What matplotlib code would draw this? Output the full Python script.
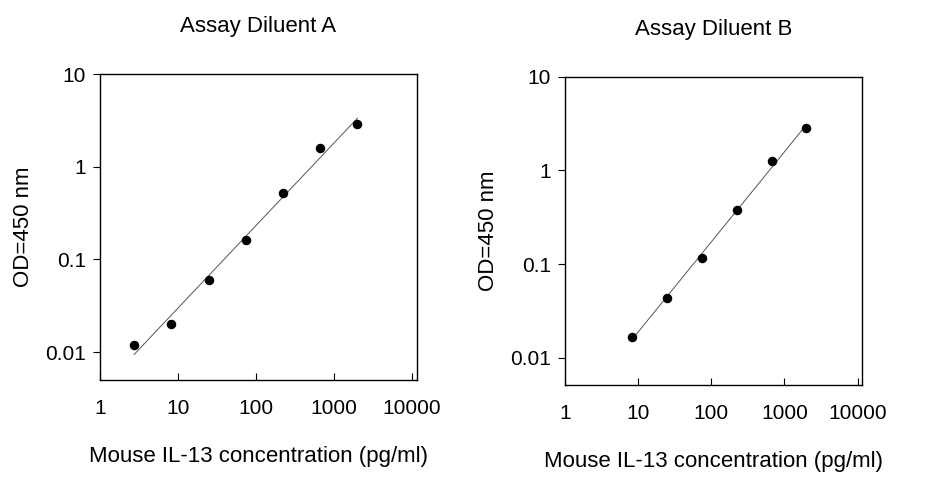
import matplotlib
matplotlib.use("Agg")
import matplotlib.pyplot as plt
import numpy as np
from matplotlib.ticker import FixedLocator, FixedFormatter, NullLocator

plt.rcParams['font.family'] = ['Liberation Sans', 'DejaVu Sans']

xA = [2.74, 8.23, 24.7, 74.1, 222, 667, 2000]
yA = [0.012, 0.020, 0.060, 0.16, 0.52, 1.6, 2.9]
xB = [8.23, 24.7, 74.1, 222, 667, 2000]
yB = [0.0165, 0.043, 0.115, 0.38, 1.25, 2.85]
titles = ["Assay Diluent A", "Assay Diluent B"]
xticks = [1, 10, 100, 1000, 10000]
xlabels = ["1", "10", "100", "1000", "10000"]
yticks = [0.01, 0.1, 1, 10]
ylabels = ["0.01", "0.1", "1", "10"]

fig = plt.figure(figsize=(9.26, 4.8), dpi=100)
axA = fig.add_axes([0.108, 0.2083, 0.342, 0.6375])
axB = fig.add_axes([0.610, 0.198, 0.321, 0.6417])

for ax, x, y, t, ylim in [(axA, xA, yA, titles[0], (0.005, 10)), (axB, xB, yB, titles[1], (0.0051, 10))]:
    ax.set_xscale('log'); ax.set_yscale('log')
    ax.set_xlim(1, 11500); ax.set_ylim(*ylim)
    lx, ly = np.log10(x), np.log10(y)
    b, a = np.polyfit(lx, ly, 1)
    xf = np.array([min(x), max(x)])
    ax.plot(xf, 10**(a + b*np.log10(xf)), color='#555555', lw=0.7)
    ax.scatter(x, y, s=34, color='black', zorder=3)
    ax.xaxis.set_major_locator(FixedLocator(xticks))
    ax.xaxis.set_major_formatter(FixedFormatter(xlabels))
    ax.yaxis.set_major_locator(FixedLocator(yticks))
    ax.yaxis.set_major_formatter(FixedFormatter(ylabels))
    ax.xaxis.set_minor_locator(NullLocator()); ax.yaxis.set_minor_locator(NullLocator())
    ax.tick_params(axis='x', direction='in', length=5, labelsize=15, pad=14)
    ax.tick_params(axis='y', direction='out', length=5, labelsize=15, pad=5)
    for s in ax.spines.values():
        s.set_linewidth(1.0)
    ax.set_title(t, fontsize=16, pad=30)
    ax.set_xlabel("Mouse IL-13 concentration (pg/ml)", fontsize=16, labelpad=20)
    ax.set_ylabel("OD=450 nm", fontsize=16, labelpad=8)

fig.savefig("out.png", dpi=100)
